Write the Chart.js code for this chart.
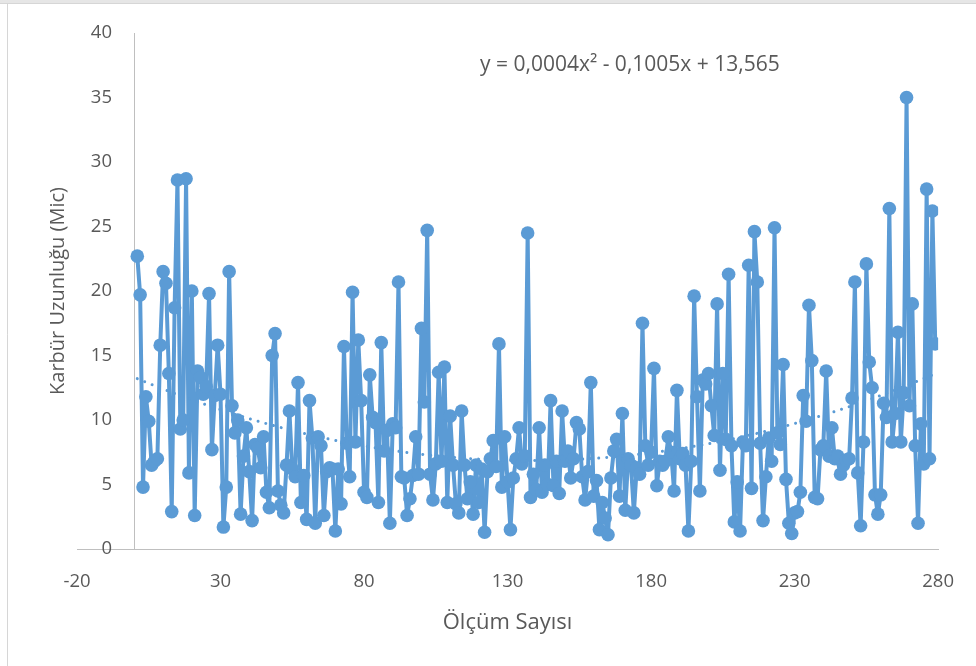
<!DOCTYPE html>
<html>
<head>
<meta charset="utf-8">
<script src="https://cdn.jsdelivr.net/npm/chart.js@4.4.0/dist/chart.umd.min.js"></script>
<style>
html,body{margin:0;padding:0;background:#fff;}
canvas{display:block;}
</style>
</head>
<body>
<canvas id="c" width="976" height="666"></canvas>
<script>
// ---- data ----
const karburUzunlugu = [
  22.7, 19.7, 4.8, 11.8, 9.9, 6.5, 6.8, 7.0, 15.8, 21.5,
  20.6, 13.6, 2.9, 18.7, 28.6, 9.3, 10.0, 28.7, 5.9, 20.0,
  2.6, 13.8, 13.3, 12.0, 12.6, 19.8, 7.7, 11.9, 15.8, 12.0,
  1.7, 4.8, 21.5, 11.1, 9.0, 10.0, 2.7, 7.2, 9.4, 6.0,
  2.2, 8.1, 7.8, 6.3, 8.7, 4.4, 3.2, 15.0, 16.7, 4.5,
  3.4, 2.8, 6.5, 10.7, 6.2, 5.6, 12.9, 3.6, 5.7, 2.3,
  11.5, 8.6, 2.0, 8.7, 8.0, 2.6, 6.0, 6.3, 6.2, 1.4,
  6.2, 3.5, 15.7, 8.2, 5.6, 19.9, 8.3, 16.2, 11.5, 4.4,
  4.0, 13.5, 10.2, 9.8, 3.6, 16.0, 7.6, 9.2, 2.0, 9.7,
  9.4, 20.7, 5.6, 5.5, 2.6, 3.9, 5.7, 8.7, 5.8, 17.1,
  11.4, 24.7, 5.8, 3.8, 6.6, 13.7, 6.8, 14.1, 3.6, 10.3,
  6.5, 3.5, 2.8, 10.7, 6.5, 3.9, 5.2, 2.7, 6.5, 3.6,
  6.2, 1.3, 6.0, 7.0, 8.4, 6.4, 15.9, 4.8, 8.7, 5.2,
  1.5, 5.5, 7.0, 9.4, 6.6, 7.2, 24.5, 4.0, 5.8, 4.6,
  9.4, 4.4, 6.5, 5.0, 11.5, 4.9, 6.8, 4.3, 10.7, 6.8,
  7.6, 5.5, 7.0, 9.8, 9.3, 5.6, 3.8, 6.0, 12.9, 4.1,
  5.3, 1.5, 3.6, 2.4, 1.1, 5.5, 7.6, 8.5, 4.1, 10.5,
  3.0, 7.0, 6.5, 2.8, 6.3, 5.8, 17.5, 8.0, 6.5, 7.5,
  14.0, 4.9, 6.8, 6.5, 6.8, 8.7, 7.5, 4.5, 12.3, 7.0,
  7.4, 6.5, 1.4, 6.8, 19.6, 11.8, 4.5, 13.1, 12.8, 13.6,
  11.1, 8.8, 19.0, 6.1, 13.6, 8.5, 21.3, 8.0, 2.1, 5.2,
  1.4, 8.3, 8.0, 22.0, 4.7, 24.6, 20.7, 8.2, 2.2, 5.6,
  8.6, 6.8, 24.9, 9.0, 8.1, 14.3, 5.4, 2.0, 1.2, 2.8,
  2.9, 4.4, 11.9, 9.9, 18.9, 14.6, 4.0, 3.9, 7.7, 8.0,
  13.8, 7.2, 9.4, 7.0, 7.2, 5.8, 6.5, 6.9, 7.0, 11.7,
  20.7, 5.9, 1.8, 8.3, 22.1, 14.5, 12.5, 4.2, 2.7, 4.2,
  11.3, 10.2, 26.4, 8.3, 10.5, 16.8, 8.3, 12.1, 35.0, 11.1,
  19.0, 8.0, 2.0, 9.7, 6.6, 27.9, 7.0, 26.2, 15.9
];
// measurement number (category) of each value: 1, 2, 3, ...
const olcumSayisi = karburUzunlugu.map((_, i) => i + 1);
const xTicks = [-20, 30, 80, 130, 180, 230, 280];
const yTicks = [0, 5, 10, 15, 20, 25, 30, 35, 40];
const xTitle = 'Ölçüm Sayısı';
const yTitle = 'Karbür Uzunluğu (Mic)';
const equationText = 'y = 0,0004x² - 0,1005x + 13,565';

// ---- 2nd order polynomial trendline (least squares, like Excel) ----
function quadFit(xs, ys) {
  let s0 = 0, s1 = 0, s2 = 0, s3 = 0, s4 = 0, t0 = 0, t1 = 0, t2 = 0;
  for (let i = 0; i < xs.length; i++) {
    const x = xs[i], y = ys[i], x2 = x * x;
    s0 += 1; s1 += x; s2 += x2; s3 += x2 * x; s4 += x2 * x2;
    t0 += y; t1 += x * y; t2 += x2 * y;
  }
  const det3 = m => m[0][0] * (m[1][1] * m[2][2] - m[1][2] * m[2][1])
                  - m[0][1] * (m[1][0] * m[2][2] - m[1][2] * m[2][0])
                  + m[0][2] * (m[1][0] * m[2][1] - m[1][1] * m[2][0]);
  const M = [[s4, s3, s2], [s3, s2, s1], [s2, s1, s0]];
  const R = [t2, t1, t0];
  const D = det3(M);
  const col = k => M.map((row, i) => row.map((v, j) => (j === k ? R[i] : v)));
  return [det3(col(0)) / D, det3(col(1)) / D, det3(col(2)) / D];
}
const [qa, qb, qc] = quadFit(olcumSayisi, karburUzunlugu);

const seriesPoints = olcumSayisi.map((x, i) => ({ x, y: karburUzunlugu[i] }));
const trendPoints = olcumSayisi.map(x => ({ x, y: qa * x * x + qb * x + qc }));

const FONT = '"Open Sans", "Liberation Sans", sans-serif';
const TXT = '#595959';
const BLUE = '#5b9bd5';
const AXIS = '#bfbfbf';

const framePlugin = {
  id: 'frame',
  beforeDraw(chart) {
    const c = chart.ctx;
    c.save();
    c.fillStyle = '#ffffff';
    c.fillRect(0, 0, chart.width, chart.height);
    c.fillStyle = '#e6e6e6';
    c.fillRect(0, 0, chart.width, 3);
    c.strokeStyle = '#d6d6d6';
    c.lineWidth = 1;
    c.beginPath();
    c.moveTo(0, 3.5); c.lineTo(chart.width, 3.5);
    c.moveTo(7.5, 3.5); c.lineTo(7.5, chart.height);
    c.stroke();
    c.restore();
  }
};

const equationPlugin = {
  id: 'equation',
  afterDraw(chart) {
    const c = chart.ctx;
    c.save();
    c.font = '21px ' + FONT;
    c.fillStyle = TXT;
    c.textAlign = 'left';
    c.textBaseline = 'middle';
    c.fillText(equationText, 480, 65);
    c.restore();
  }
};

new Chart(document.getElementById('c'), {
  type: 'scatter',
  data: {
    datasets: [
      {
        label: 'Trend',
        data: trendPoints,
        showLine: true,
        borderColor: BLUE,
        borderWidth: 3,
        borderDash: [0.01, 8],
        borderCapStyle: 'round',
        pointRadius: 0,
        tension: 0,
        fill: false
      },
      {
        label: yTitle,
        data: seriesPoints,
        showLine: true,
        borderColor: BLUE,
        backgroundColor: BLUE,
        borderWidth: 4,
        borderJoinStyle: 'round',
        pointRadius: 6.8,
        pointBorderWidth: 0,
        pointBackgroundColor: BLUE,
        tension: 0,
        fill: false
      }
    ]
  },
  options: {
    responsive: false,
    animation: false,
    events: [],
    layout: { padding: { left: 0, right: 37, top: 33, bottom: 0 } },
    plugins: { legend: { display: false }, tooltip: { enabled: false } },
    scales: {
      x: {
        type: 'linear',
        position: 'bottom',
        min: -20,
        max: 280,
        afterBuildTicks: s => { s.ticks = xTicks.map(v => ({ value: v })); },
        afterFit: s => { s.height = 117; },
        grid: { display: false, drawTicks: false },
        border: { display: true, color: AXIS, width: 1 },
        ticks: { color: TXT, font: { family: FONT, size: 18.5 }, padding: 22, maxRotation: 0, autoSkip: false },
        title: { display: true, text: xTitle, color: TXT, font: { family: FONT, size: 22 }, padding: { top: 0, bottom: 30 } }
      },
      // vertical axis line crossing at x = 0
      y: {
        type: 'linear',
        position: { x: 0 },
        min: 0,
        max: 40,
        afterBuildTicks: s => { s.ticks = yTicks.map(v => ({ value: v })); },
        afterFit: s => { s.width = 0; },
        grid: { display: false, drawTicks: false },
        border: { display: true, color: AXIS, width: 1 },
        ticks: { display: false }
      },
      // tick labels of the vertical axis, placed just left of the x = 0 axis line
      yLabels: {
        type: 'linear',
        axis: 'y',
        position: { x: -7.8 },
        min: 0,
        max: 40,
        afterBuildTicks: s => { s.ticks = yTicks.map(v => ({ value: v })); },
        afterFit: s => { s.width = 0; },
        grid: { display: false, drawTicks: false },
        border: { display: false },
        ticks: { color: TXT, font: { family: FONT, size: 18.5 }, padding: 0 }
      },
      yTitleAxis: {
        type: 'linear',
        axis: 'y',
        position: 'left',
        afterFit: s => { s.width = 77; },
        grid: { display: false, drawTicks: false },
        border: { display: false },
        ticks: { display: false },
        title: { display: true, text: yTitle, color: TXT, font: { family: FONT, size: 20 }, padding: { top: 46, bottom: 0 } }
      }
    }
  },
  plugins: [framePlugin, equationPlugin]
});
</script>
</body>
</html>
